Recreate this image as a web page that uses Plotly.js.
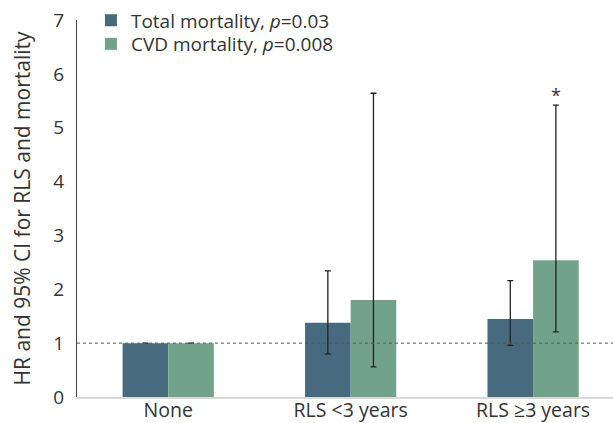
<!DOCTYPE html>
<html>
<head>
<meta charset="utf-8">
<script src="https://cdn.plot.ly/plotly-3.0.1.min.js"></script>
<style>html,body{margin:0;padding:0;background:#fff;}#chart{width:613px;height:423px;}</style>
</head>
<body>
<div id="chart"></div>
<script>
const categories = ['None', 'RLS <3 years', 'RLS ≥3 years'];
const totalHR = [1.0, 1.38, 1.45];
const totalLower = [1.0, 0.80, 0.96];
const totalUpper = [1.0, 2.34, 2.16];
const cvdHR = [1.0, 1.80, 2.54];
const cvdLower = [1.0, 0.56, 1.21];
const cvdUpper = [1.0, 5.64, 5.42];
const seriesNames = ['Total mortality, <i>p</i>=0.03', 'CVD mortality, <i>p</i>=0.008'];
const showErr = [false, true, true];

function errArrays(hr, lo, hi) {
  return {
    plus: hr.map((v, i) => showErr[i] ? hi[i] - v : 0),
    minus: hr.map((v, i) => showErr[i] ? v - lo[i] : 0)
  };
}
const eT = errArrays(totalHR, totalLower, totalUpper);
const eC = errArrays(cvdHR, cvdLower, cvdUpper);

const font = 'Open Sans, Noto Sans, sans-serif';
const traces = [
  {
    type: 'bar', x: [0,1,2], y: totalHR, name: seriesNames[0], legend: 'legend',
    marker: {color: '#476a7f'},
    error_y: {type: 'data', array: eT.plus, arrayminus: eT.minus, visible: true, color: '#222', thickness: 1.3, width: 3}
  },
  {
    type: 'bar', x: [0,1,2], y: cvdHR, name: seriesNames[1], legend: 'legend2',
    marker: {color: '#72a38a'},
    error_y: {type: 'data', array: eC.plus, arrayminus: eC.minus, visible: true, color: '#222', thickness: 1.3, width: 3}
  }
];

const legendBase = {x: 0.026, xanchor: 'left', yanchor: 'middle', bgcolor: 'rgba(0,0,0,0)',
                    font: {size: 19, color: '#333'}, borderwidth: 0};

const layout = {
  width: 613, height: 423,
  margin: {l: 77, r: 0, t: 20, b: 26},
  paper_bgcolor: '#fff', plot_bgcolor: '#fff',
  barmode: 'group', bargap: 0.5, bargroupgap: 0,
  font: {family: font, color: '#333', size: 16},
  showlegend: true,
  legend: Object.assign({}, legendBase, {y: 0.9987}),
  legend2: Object.assign({}, legendBase, {y: 0.9363}),
  xaxis: {
    tickmode: 'array', tickvals: [0,1,2], ticktext: categories,
    range: [-0.5, 2.438],
    showline: true, linecolor: '#d9d9d9', linewidth: 2,
    showgrid: false, zeroline: false, ticks: '',
    ticklabelstandoff: -5,
    tickfont: {size: 19.5, color: '#333'}
  },
  yaxis: {
    range: [0, 7], dtick: 1, tick0: 0,
    showline: true, linecolor: '#444', linewidth: 1,
    showgrid: false, zeroline: false, ticks: '',
    ticklabelstandoff: 8,
    tickfont: {size: 19, color: '#333'},
    title: {text: 'HR and 95% CI for RLS and mortality', font: {size: 21, color: '#333'}, standoff: 16}
  },
  shapes: [
    {type: 'line', xref: 'paper', x0: 0, x1: 1, yref: 'y', y0: 1, y1: 1,
     line: {color: '#555', width: 1, dash: 'dot'}}
  ],
  annotations: [
    {x: 2, y: cvdUpper[2], xref: 'x', yref: 'y', text: '*', showarrow: false,
     xshift: 22.75, yanchor: 'bottom', yshift: -4, font: {size: 18, color: '#333'}}
  ]
};

Plotly.newPlot('chart', traces, layout, {displayModeBar: false, staticPlot: true});
</script>
</body>
</html>
